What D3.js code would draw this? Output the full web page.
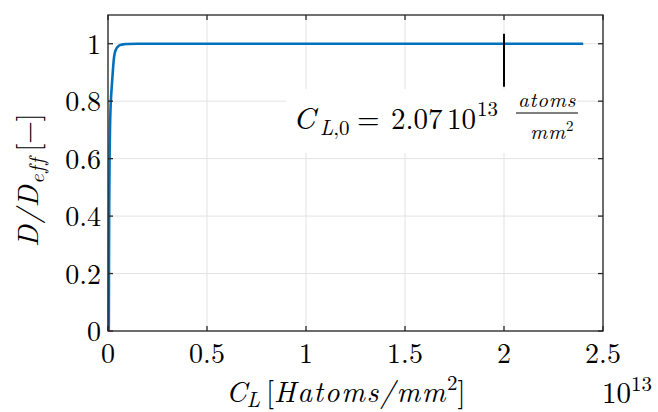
<!DOCTYPE html>
<html><head><meta charset="utf-8">
<script src="https://cdn.jsdelivr.net/npm/d3@7"></script>
<style>body{margin:0;background:#fff;}</style>
</head>
<body><svg id="c" width="658" height="412" font-family="Latin Modern Roman, Liberation Serif, serif"></svg>
<script>
// Data (x in units of 1e13 atoms/mm^2)
const xVals = [0.004,0.005,0.006,0.008,0.010,0.013,0.016,0.020,0.025,0.030,0.035,0.040,0.050,0.060,0.080,0.100,0.150,0.300,1.000,2.400];
const yVals = [0.000,0.250,0.420,0.600,0.700,0.780,0.820,0.860,0.910,0.950,0.970,0.980,0.990,0.995,0.998,0.999,1.000,1.000,1.000,1.000];
const xTicks = [0,0.5,1,1.5,2,2.5];
const xTickLabels = ["0","0.5","1","1.5","2","2.5"];
const yTicks = [0,0.2,0.4,0.6,0.8,1];
const yTickLabels = ["0","0.2","0.4","0.6","0.8","1"];
const markerX = [2.0, 2.0];
const markerY = [0.85, 1.035];

const svg = d3.select("#c");
const L=108,R=603,T=15,B=331;
const x = d3.scaleLinear().domain([0,2.5]).range([L,R]);
const y = d3.scaleLinear().domain([0,1.1]).range([B,T]);

// grid
const g = svg.append("g");
g.selectAll(".gx").data(xTicks).join("line")
  .attr("x1",d=>x(d)).attr("x2",d=>x(d)).attr("y1",T).attr("y2",B)
  .attr("stroke","#e3e3e3").attr("stroke-width",1);
g.selectAll(".gy").data(yTicks).join("line")
  .attr("y1",d=>y(d)).attr("y2",d=>y(d)).attr("x1",L).attr("x2",R)
  .attr("stroke","#e3e3e3").attr("stroke-width",1);

// curve
const pts = xVals.map((v,i)=>[v,yVals[i]]);
svg.append("path").datum(pts)
  .attr("d",d3.line().x(d=>x(d[0])).y(d=>y(d[1])).curve(d3.curveMonotoneX))
  .attr("fill","none").attr("stroke","#0072BD").attr("stroke-width",2.6);

// axes box with inward ticks
const ax = svg.append("g").attr("stroke","#262626").attr("stroke-width",1.3);
ax.append("rect").attr("x",L).attr("y",T).attr("width",R-L).attr("height",B-T).attr("fill","none");
xTicks.forEach(t=>{
  ax.append("line").attr("x1",x(t)).attr("x2",x(t)).attr("y1",B).attr("y2",B-5);
  ax.append("line").attr("x1",x(t)).attr("x2",x(t)).attr("y1",T).attr("y2",T+5);
});
yTicks.forEach(t=>{
  ax.append("line").attr("y1",y(t)).attr("y2",y(t)).attr("x1",L).attr("x2",L+5);
  ax.append("line").attr("y1",y(t)).attr("y2",y(t)).attr("x1",R).attr("x2",R-5);
});

// tick labels
svg.selectAll(".xl").data(xTicks).join("text")
  .attr("x",d=>x(d)).attr("y",B+32).attr("text-anchor","middle")
  .attr("font-size",28).text((d,i)=>xTickLabels[i]);
svg.selectAll(".yl").data(yTicks).join("text")
  .attr("x",L-7).attr("y",d=>y(d)+10).attr("text-anchor","end")
  .attr("font-size",28).text((d,i)=>yTickLabels[i]);

// exponent
const ex = svg.append("text").attr("x",602).attr("y",403).attr("font-size",29);
ex.append("tspan").text("10");
ex.append("tspan").attr("dy",-12).attr("font-size",21).text("13");

// x label (math italic, widened)
const xl = svg.append("text").attr("x",226).attr("y",402).attr("font-size",29);
xl.append("tspan").attr("font-style","italic").text("C");
xl.append("tspan").attr("font-style","italic").attr("font-size",21).attr("dy",5).text("L");
xl.append("tspan").attr("dy",-5).attr("dx",6).text("[");
xl.append("tspan").attr("font-style","italic").attr("letter-spacing",1.6).text("Hatoms/mm");
xl.append("tspan").attr("dy",-12).attr("font-size",21).text("2");
xl.append("tspan").attr("dy",12).text("]");

// y label
const yl = svg.append("text").attr("transform","translate(38,247) rotate(-90)").attr("font-size",29);
yl.append("tspan").attr("font-style","italic").attr("letter-spacing",1.5).text("D/D");
yl.append("tspan").attr("font-style","italic").attr("font-size",21).attr("dy",6).attr("letter-spacing",1.5).text("eff");
yl.append("tspan").attr("dy",-6).attr("dx",5).text("[\u2212]");

// marker line
svg.append("line").attr("x1",x(markerX[0])).attr("x2",x(markerX[1]))
  .attr("y1",y(markerY[0])).attr("y2",y(markerY[1]))
  .attr("stroke","#000").attr("stroke-width",2);

// annotation box + text
svg.append("rect").attr("x",286).attr("y",89).attr("width",291).attr("height",64).attr("fill","#fff");
const an = svg.append("g").attr("font-size",29);
an.append("text").attr("x",293).attr("y",129).attr("font-style","italic").attr("font-size",31).text("C");
an.append("text").attr("x",320).attr("y",135).attr("font-size",21).html('<tspan font-style="italic">L</tspan>,0');
an.append("text").attr("x",357).attr("y",129).text("=");
an.append("text").attr("x",391).attr("y",129).text("2.07");
an.append("text").attr("x",447).attr("y",129).text("10");
an.append("text").attr("x",477).attr("y",116).attr("font-size",21).text("13");
an.append("text").attr("x",547).attr("y",107).attr("text-anchor","middle").attr("font-size",21).attr("font-style","italic").attr("letter-spacing",0.8).text("atoms");
an.append("line").attr("x1",516).attr("x2",578).attr("y1",113).attr("y2",113).attr("stroke","#000").attr("stroke-width",1);
const fm = an.append("text").attr("x",530).attr("y",139).attr("font-size",21);
fm.append("tspan").attr("font-style","italic").attr("letter-spacing",0.8).text("mm");
fm.append("tspan").attr("dy",-8).attr("font-size",15).text("2");
</script></body></html>
